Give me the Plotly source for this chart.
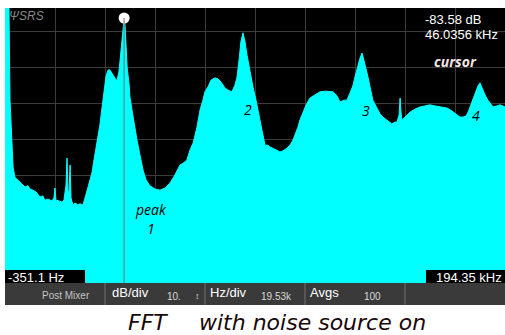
import plotly.graph_objects as go

# ---- data (frequency in kHz, level in dB) ----
freq_khz = [-0.35, 1.2, 1.6, 2.4, 2.8, 3.5, 4.7, 5.5, 6.7, 7.4, 8.6, 9.4, 10.55, 11.7,
            13.3, 14.4, 15.2, 16.4, 17.95, 18.7, 19.1, 19.5, 20.7, 21.8, 22.6, 23.4,
            23.8, 24.2, 24.6, 25.0, 25.35, 26.1, 26.9, 28.1, 28.85, 30.0, 30.8, 32.0,
            32.7, 33.5, 34.3, 35.5, 36.6, 37.4, 38.2, 39.0, 39.8, 40.5, 41.3, 42.1,
            42.9, 43.3, 44.0, 44.4, 45.2, 45.6, 46.0356, 46.4, 46.8, 47.2, 48.0, 48.3,
            49.1, 49.5, 50.3, 51.05, 52.2, 53.4, 54.6, 56.1, 58.1, 60.0, 62.0, 63.9,
            65.8, 67.0, 67.8, 69.0, 70.5, 71.7, 72.9, 74.4, 75.6, 76.7, 77.5, 78.7,
            79.9, 81.4, 82.6, 83.8, 85.3, 86.5, 88.0, 89.2, 90.0, 90.8, 91.5, 92.3,
            93.1, 93.9, 95.05, 96.2, 97.4, 98.2, 98.9, 99.7, 100.9, 102.06, 102.8,
            104.0, 105.2, 106.7, 107.9, 109.5, 110.6, 111.8, 113.0, 113.7, 114.5,
            115.7, 116.9, 118.4, 120.0, 122.3, 124.6, 127.4, 128.9, 130.1, 131.7,
            132.8, 134.0, 135.2, 135.9, 137.1, 137.9, 138.7, 139.4, 140.2, 141.0,
            142.2, 142.9, 144.5, 145.7, 146.8, 148.4, 149.6, 150.3, 151.5, 152.3,
            153.1, 153.5, 153.85, 154.2, 155.4, 157.4, 159.3, 161.2, 163.2, 165.1,
            167.1, 169.0, 171.8, 173.7, 175.7, 176.8, 178.0, 179.2, 180.0, 180.7,
            181.9, 183.1, 183.8, 184.6, 185.4, 186.6, 187.7, 188.5, 189.7, 191.2,
            192.4, 194.35]
level_db = [-80.0, -80.8, -106.4, -120.2, -125.0, -127.8, -128.6, -129.1, -130.0, -130.5,
            -130.2, -131.1, -131.4, -131.9, -133.3, -133.0, -134.2, -133.9, -134.4,
            -133.6, -130.8, -134.2, -134.4, -134.7, -134.2, -130.0, -122.5, -132.7,
            -131.4, -124.4, -133.6, -135.5, -135.0, -135.5, -135.2, -135.5, -133.6,
            -130.5, -128.6, -126.6, -123.0, -118.3, -113.3, -108.6, -103.6, -99.7,
            -98.0, -98.0, -98.9, -100.0, -100.8, -100.8, -98.6, -95.8, -89.7, -85.5,
            -83.58, -85.5, -91.1, -97.2, -102.2, -105.5, -109.1, -111.1, -114.7,
            -117.5, -121.6, -125.8, -128.6, -130.2, -131.1, -131.4, -130.8, -129.4,
            -127.2, -125.3, -124.4, -123.9, -123.0, -120.2, -118.3, -113.9, -109.1,
            -106.4, -104.1, -102.7, -100.8, -100.2, -100.5, -101.4, -103.0, -103.6,
            -104.1, -102.2, -100.0, -95.2, -90.2, -87.7, -90.2, -93.9, -98.6, -102.7,
            -106.4, -109.1, -111.1, -114.7, -118.9, -118.9, -119.4, -119.7, -120.2,
            -120.8, -120.5, -119.7, -118.9, -117.5, -115.3, -113.9, -111.9, -109.9,
            -107.7, -105.8, -105.0, -104.1, -103.9, -104.1, -105.2, -106.9, -106.4,
            -106.4, -104.4, -102.2, -100.0, -96.6, -94.7, -93.3, -95.2, -98.0, -100.0,
            -104.1, -106.4, -108.6, -110.2, -111.1, -111.9, -112.5, -113.0, -112.5,
            -112.5, -110.5, -105.8, -109.7, -111.9, -111.1, -109.7, -108.9, -108.3,
            -108.0, -107.7, -108.0, -108.3, -108.6, -109.4, -110.5, -111.1, -111.1,
            -110.8, -109.7, -108.3, -105.8, -103.6, -102.5, -101.6, -103.0, -105.0,
            -106.4, -107.2, -108.3, -108.0, -107.7, -108.3]

cursor_freq_khz = 46.0356
cursor_level_db = -83.58
x_start_khz = -0.3511
x_stop_khz = 194.35
y_bottom_db = -157.2
y_top_db = -80.8
grid_db0 = -87.2
grid_khz0 = 19.12
x_div_khz = 19.47
db_per_div = 10

start_label = "-351.1 Hz"
stop_label = "194.35 kHz"
readout_level = "-83.58 dB"
readout_freq = "46.0356 kHz"
hz_per_div_label = "19.53k"
db_per_div_label = "10."
avgs_label = "100"
peak_names = ["2", "3", "4"]
peak_name_freqs = [94.3, 140.2, 183.1]
peak_name_levels = [-109.1, -109.4, -110.8]

W, H = 505, 335
def PX(x):
    return x / W
def PY(y):
    return 1 - y / H

CYAN = "#00FFFF"
fig = go.Figure()
fig.add_trace(go.Scatter(x=freq_khz, y=[y_bottom_db] * len(freq_khz), mode="lines",
                         line=dict(width=0, color=CYAN), hoverinfo="skip"))
fig.add_trace(go.Scatter(x=freq_khz, y=level_db, mode="lines", fill="tonexty",
                         fillcolor=CYAN, line=dict(color=CYAN, width=1)))

# cursor line + marker
fig.add_shape(type="line", xref="x", yref="y", x0=cursor_freq_khz, x1=cursor_freq_khz,
              y0=cursor_level_db, y1=y_bottom_db, line=dict(color="#7a6e6e", width=1))
fig.add_trace(go.Scatter(x=[cursor_freq_khz], y=[cursor_level_db], mode="markers",
                         marker=dict(color="white", size=11), cliponaxis=False))

ann = []
SCR = "Liberation Sans"
# readouts
ann.append(dict(text=readout_level, x=PX(423), y=PY(20), xanchor="left", yanchor="middle",
                font=dict(family=SCR, size=13, color="white")))
ann.append(dict(text=readout_freq, x=PX(423), y=PY(35), xanchor="left", yanchor="middle",
                font=dict(family=SCR, size=13, color="white")))
ann.append(dict(text="<b><i>cursor</i></b>", x=PX(455), y=PY(61), xanchor="center",
                yanchor="middle", font=dict(family="Open Sans", size=14, color="#f5e4e4")))
# logo
ann.append(dict(text="<i>ΨSRS</i>", x=PX(7), y=PY(16), xanchor="left", yanchor="middle",
                font=dict(family=SCR, size=12, color="#8a8a8a")))
# peak labels
for t, f, l in zip(peak_names, peak_name_freqs, peak_name_levels):
    ann.append(dict(text="<i>" + t + "</i>", x=f, y=l, xref="x", yref="y",
                    xanchor="center", yanchor="middle", showarrow=False,
                    font=dict(family="Open Sans", size=14, color="black")))
ann.append(dict(text="<i>peak</i>", x=PX(151), y=PY(209), xanchor="center", yanchor="middle",
                font=dict(family="Open Sans", size=14, color="black")))
ann.append(dict(text="<i>1</i>", x=PX(151), y=PY(229), xanchor="center", yanchor="middle",
                font=dict(family="Open Sans", size=14, color="black")))
# start / stop labels
ann.append(dict(text=start_label, x=PX(6), y=PY(277), xanchor="left", yanchor="middle",
                font=dict(family=SCR, size=13, color="white")))
ann.append(dict(text=stop_label, x=PX(504), y=PY(277), xanchor="right", yanchor="middle",
                font=dict(family=SCR, size=13, color="white")))
# toolbar text
tb = [("Post Mixer", 66, 295, 10, "#c4c4c4", "center"),
      ("dB/div", 110, 292, 13, "white", "left"),
      (db_per_div_label, 174, 296, 10, "#d8d8d8", "center"),
      ("↕", 197, 296, 9, "#d8d8d8", "center"),
      ("Hz/div", 208, 292, 13, "white", "left"),
      (hz_per_div_label, 276, 296, 10, "#d8d8d8", "center"),
      ("Avgs", 308, 292, 13, "white", "left"),
      (avgs_label, 372, 296, 10, "#d8d8d8", "center")]
for t, x, y, s, c, a in tb:
    ann.append(dict(text=t, x=PX(x), y=PY(y), xanchor=a, yanchor="middle",
                    font=dict(family=SCR, size=s, color=c)))
# caption
CAP = dict(family="DejaVu Sans", size=22, color="#1a0808")
ann.append(dict(text="<i>FFT</i>", x=PX(126), y=PY(322), xanchor="left", yanchor="middle",
                font=CAP))
ann.append(dict(text="<i>with noise source on</i>", x=PX(428), y=PY(322), xanchor="right",
                yanchor="middle", font=CAP))
for a in ann:
    a.setdefault("xref", "paper")
    a.setdefault("yref", "paper")
    a.setdefault("showarrow", False)

shapes = []
# label boxes
shapes.append(dict(type="rect", xref="paper", yref="paper", x0=PX(5), x1=PX(85),
                   y0=PY(283), y1=PY(270), fillcolor="black", line=dict(width=0), layer="above"))
shapes.append(dict(type="rect", xref="paper", yref="paper", x0=PX(426), x1=PX(505),
                   y0=PY(283), y1=PY(270), fillcolor="black", line=dict(width=0), layer="above"))
# toolbar
shapes.append(dict(type="rect", xref="paper", yref="paper", x0=PX(5), x1=PX(505),
                   y0=PY(305), y1=PY(283), fillcolor="#3a3a3a", line=dict(width=0)))
for sx in [104, 204, 304, 404]:
    shapes.append(dict(type="rect", xref="paper", yref="paper", x0=PX(sx), x1=PX(sx + 2),
                       y0=PY(305), y1=PY(283), fillcolor="#555555", line=dict(width=0)))
for s in shapes:
    fig.add_shape(**s)

fig.update_layout(
    width=W, height=H, margin=dict(l=0, r=0, t=0, b=0),
    paper_bgcolor="white", plot_bgcolor="black", showlegend=False,
    annotations=ann,
    xaxis=dict(range=[x_start_khz, x_stop_khz], domain=[PX(5), 1], showgrid=True,
               gridcolor="#3c3c3c", gridwidth=1, tick0=grid_khz0, dtick=x_div_khz,
               showticklabels=False, zeroline=False, ticks="", showline=False, fixedrange=True),
    yaxis=dict(range=[y_bottom_db, y_top_db], domain=[PY(283), PY(8)], showgrid=True,
               gridcolor="#3c3c3c", gridwidth=1, tick0=grid_db0, dtick=db_per_div,
               showticklabels=False, zeroline=False, ticks="", showline=False, fixedrange=True),
)
fig.write_html("out.html")
